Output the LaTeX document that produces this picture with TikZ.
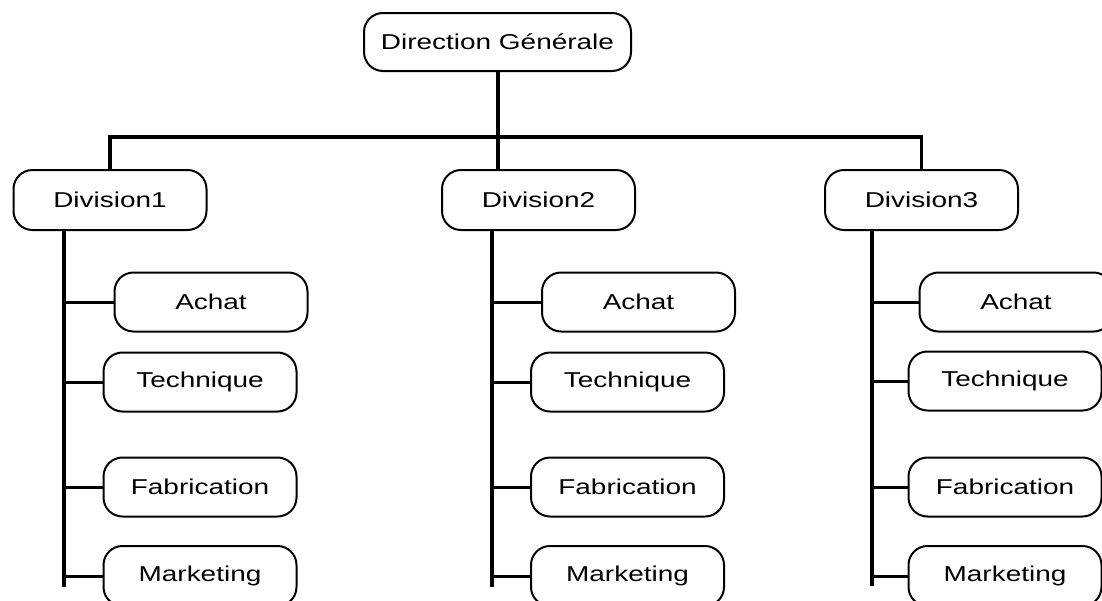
\documentclass[tikz,border=0pt]{standalone}
\usepackage{fontspec}
\setmainfont{Liberation Sans}[FakeStretch=1.3]
\begin{document}
\begin{tikzpicture}[x=1pt,y=-1pt,
  box/.style={draw, line width=2pt, rounded corners=19pt, minimum width=193pt, minimum height=59pt,
    inner sep=0pt, font=\fontsize{21.5}{25}\selectfont},
  trunk/.style={line width=4pt},
  bus/.style={line width=3.2pt},
  conn/.style={line width=3pt}]
\useasboundingbox (0,0) rectangle (1102,600);
% top
\node[box, minimum width=267pt, minimum height=58pt] (DG) at (497.5,42) {Direction Générale};
% divisions
\node[box, minimum height=60pt] (D1) at (110,200) {Division1};
\node[box, minimum height=60pt] (D2) at (538.5,200) {Division2};
\node[box, minimum height=60pt] (D3) at (921.5,200) {Division3};
% bus
\coordinate (bus) at (498,137);
\draw[bus] (DG.south -| bus) -- (bus);
\draw[bus] (D1.north) -- (D1.north |- bus) -| (D3.north);
\draw[bus] (bus) -- (bus |- D2.north);
% sub boxes
\node[box] (A1) at (211,302) {Achat};
\node[box] (T1) at (200,382) {Technique};
\node[box] (F1) at (200,487) {Fabrication};
\node[box, minimum height=60pt] (M1) at (200,576) {Marketing};
\node[box] (A2) at (638.5,302) {Achat};
\node[box] (T2) at (627.5,382) {Technique};
\node[box] (F2) at (627.5,487) {Fabrication};
\node[box, minimum height=60pt] (M2) at (627.5,576) {Marketing};
\node[box] (A3) at (1016,302) {Achat};
\node[box] (T3) at (1005,381) {Technique};
\node[box] (F3) at (1005,487) {Fabrication};
\node[box, minimum height=60pt] (M3) at (1005,576) {Marketing};
% trunks
\coordinate (t1) at (64,587);
\coordinate (t2) at (492,587);
\coordinate (t3) at (872,586);
\draw[trunk] (t1 |- D1.south) -- (t1);
\draw[trunk] (t2 |- D2.south) -- (t2);
\draw[trunk] (t3 |- D3.south) -- (t3);
% connectors
\foreach \i in {1,2,3}{
  \foreach \b in {A,T,F,M}{
    \draw[conn] (t\i |- \b\i.west) -- (\b\i.west);
  }
}
\end{tikzpicture}
\end{document}
